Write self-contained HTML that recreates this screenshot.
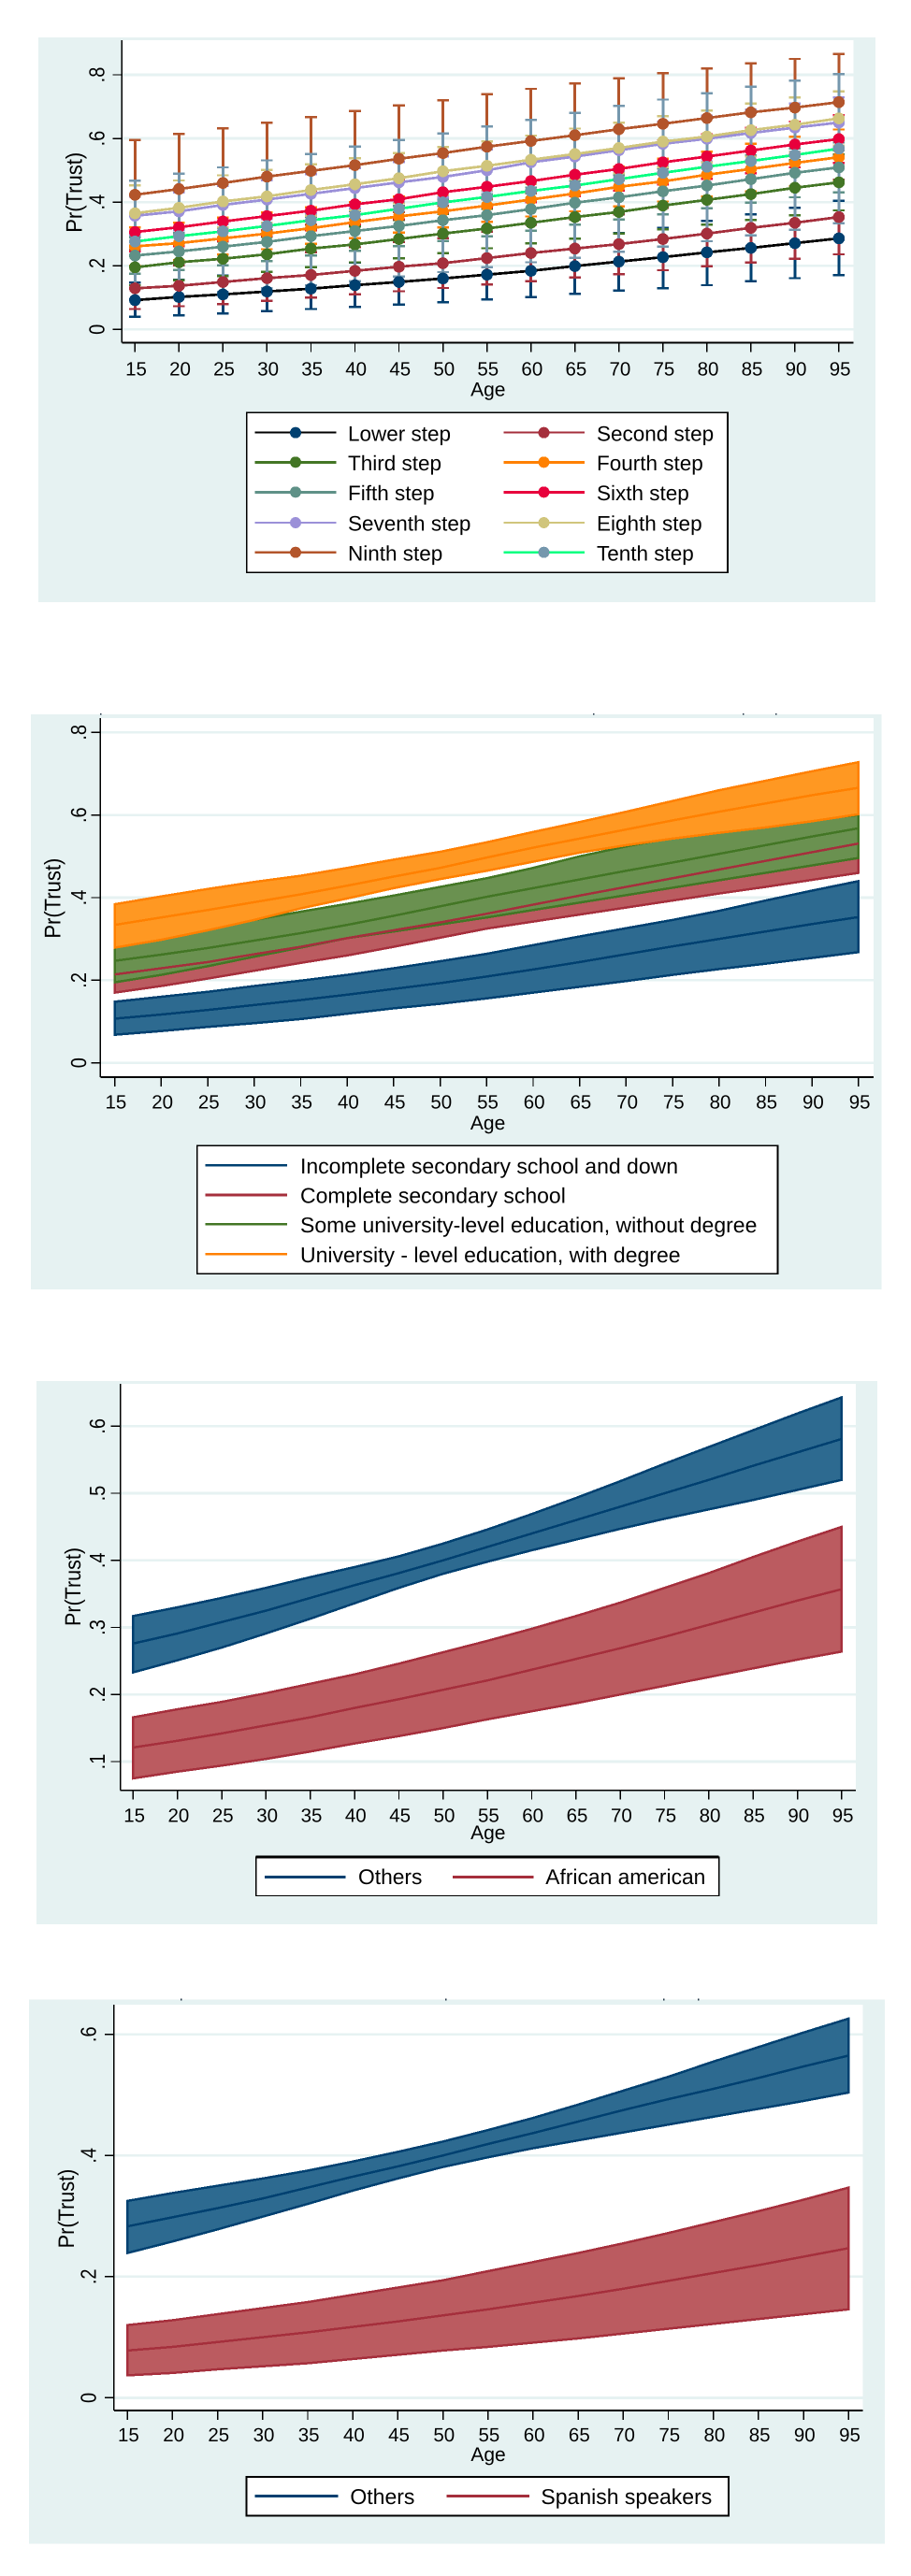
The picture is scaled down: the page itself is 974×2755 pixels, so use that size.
<!DOCTYPE html>
<html lang="en">
<head>
<meta charset="utf-8">
<title>Pr(Trust) by age</title>
<style>
html,body{margin:0;padding:0;background:#fff;}
svg{display:block;font-family:"Liberation Sans",sans-serif;}
</style>
</head>
<body>
<svg id="figure" xmlns="http://www.w3.org/2000/svg" width="974" height="2755" viewBox="0 0 974 2755" shape-rendering="crispEdges"></svg>
<script>
// ---------- shared categories ----------
const ages = [15,20,25,30,35,40,45,50,55,60,65,70,75,80,85,90,95];

// ---------- chart 1: trust steps (mid / lower / upper) ----------
const stepNames = ["Lower step","Second step","Third step","Fourth step","Fifth step","Sixth step","Seventh step","Eighth step","Ninth step","Tenth step"];
const step1Mid = [.092,.102,.110,.119,.128,.139,.149,.160,.172,.184,.199,.213,.227,.242,.256,.271,.286];
const step1Low = [.040,.044,.050,.058,.064,.071,.078,.085,.094,.102,.112,.122,.129,.139,.151,.161,.170];
const step1Up  = [.147,.156,.169,.181,.196,.210,.224,.239,.255,.270,.285,.303,.319,.341,.362,.382,.404];
const step2Mid = [.129,.137,.149,.161,.171,.184,.197,.208,.224,.240,.254,.268,.284,.301,.319,.335,.353];
const step2Low = [.064,.073,.080,.090,.100,.110,.120,.130,.141,.151,.163,.174,.186,.198,.210,.222,.236];
const step2Up  = [.194,.201,.218,.232,.242,.258,.274,.286,.307,.329,.345,.362,.382,.404,.428,.448,.470];
const step3Mid = [.195,.211,.222,.236,.254,.267,.284,.301,.317,.335,.353,.369,.389,.407,.425,.445,.462];
const step3Low = [.139,.154,.168,.181,.195,.211,.224,.239,.255,.270,.285,.301,.315,.329,.344,.358,.374];
const step3Up  = [.251,.268,.276,.291,.313,.323,.344,.363,.379,.400,.421,.437,.463,.485,.506,.532,.550];
const step4Mid = [.261,.271,.286,.301,.318,.337,.355,.371,.389,.408,.427,.448,.465,.486,.504,.523,.541];
const step4Low = [.200,.217,.235,.252,.269,.286,.304,.320,.338,.355,.371,.386,.402,.417,.433,.450,.466];
const step4Up  = [.320,.335,.351,.367,.383,.400,.417,.433,.450,.468,.490,.512,.536,.558,.583,.605,.628];
const step5Mid = [.232,.245,.260,.275,.293,.309,.325,.343,.359,.378,.398,.415,.434,.452,.472,.492,.509];
const step5Low = [.175,.187,.201,.215,.232,.247,.262,.278,.293,.310,.329,.345,.362,.380,.398,.415,.431];
const step5Up  = [.290,.303,.319,.335,.354,.371,.388,.408,.425,.446,.467,.485,.506,.524,.546,.569,.587];
const step6Mid = [.306,.321,.339,.356,.373,.393,.409,.431,.448,.466,.486,.504,.525,.543,.562,.581,.598];
const step6Low = [.246,.261,.278,.294,.311,.330,.346,.367,.383,.400,.419,.436,.456,.473,.491,.509,.523];
const step6Up  = [.366,.381,.400,.418,.435,.456,.472,.495,.513,.532,.553,.572,.594,.613,.633,.653,.673];
const step7Mid = [.357,.371,.391,.408,.426,.444,.462,.479,.500,.525,.543,.563,.583,.599,.617,.634,.650];
const step7Low = [.297,.311,.331,.347,.364,.381,.398,.414,.435,.458,.475,.494,.513,.527,.543,.558,.571];
const step7Up  = [.417,.431,.451,.469,.488,.507,.526,.544,.565,.592,.611,.632,.653,.671,.691,.710,.729];
const step8Mid = [.365,.382,.402,.418,.438,.456,.475,.497,.514,.533,.551,.570,.590,.606,.626,.643,.663];
const step8Low = [.278,.296,.320,.335,.357,.374,.396,.421,.437,.457,.471,.491,.510,.524,.543,.557,.578];
const step8Up  = [.452,.468,.484,.501,.519,.538,.554,.573,.591,.609,.631,.649,.670,.688,.710,.729,.748];
const step9Mid = [.423,.441,.460,.480,.498,.516,.536,.554,.574,.592,.610,.629,.646,.664,.682,.697,.714];
const step9Low = [.251,.268,.288,.311,.329,.346,.368,.388,.409,.428,.447,.469,.487,.508,.528,.544,.563];
const step9Up  = [.595,.614,.632,.649,.667,.686,.704,.720,.739,.756,.773,.789,.805,.820,.836,.850,.865];
const step10Mid = [.276,.293,.308,.325,.343,.359,.379,.399,.416,.435,.452,.472,.492,.511,.529,.548,.568];
const step10Low = [.095,.105,.118,.129,.139,.152,.166,.180,.195,.211,.225,.244,.260,.277,.295,.313,.333];
const step10Up  = [.467,.489,.509,.531,.551,.574,.595,.616,.638,.658,.680,.702,.722,.742,.762,.782,.802];
const step1Ticks = [0,.2,.4,.6,.8];
const step1TickLabels = ["0",".2",".4",".6",".8"];

// ---------- chart 2: education ----------
const eduNames = ["Incomplete secondary school and down","Complete secondary school","Some university-level education, without degree","University - level education, with degree"];
const edu1Mid = [.107,.117,.128,.140,.152,.165,.179,.193,.209,.226,.244,.263,.282,.300,.318,.336,.353];
const edu1Low = [.068,.077,.087,.096,.106,.119,.132,.143,.156,.170,.184,.198,.213,.227,.240,.254,.268];
const edu1Up  = [.148,.160,.172,.186,.199,.213,.229,.246,.264,.285,.306,.326,.346,.368,.393,.417,.440];
const edu2Mid = [.214,.229,.244,.263,.281,.302,.321,.340,.361,.383,.405,.426,.447,.468,.489,.510,.531];
const edu2Low = [.170,.186,.204,.223,.242,.260,.281,.303,.325,.342,.359,.376,.393,.410,.426,.443,.460];
const edu2Up  = [.258,.272,.284,.303,.320,.344,.361,.374,.397,.423,.448,.471,.494,.521,.548,.575,.598];
const edu3Mid = [.247,.262,.278,.296,.314,.334,.356,.379,.402,.423,.444,.465,.485,.506,.527,.548,.568];
const edu3Low = [.195,.213,.234,.257,.279,.302,.318,.335,.352,.370,.388,.406,.424,.442,.460,.478,.496];
const edu3Up  = [.279,.302,.325,.346,.366,.385,.405,.426,.447,.472,.500,.524,.545,.562,.577,.589,.600];
const edu4Mid = [.334,.352,.370,.389,.408,.429,.451,.472,.497,.521,.543,.565,.587,.608,.628,.648,.666];
const edu4Low = [.279,.298,.321,.346,.374,.398,.423,.445,.465,.487,.509,.527,.543,.557,.570,.585,.602];
const edu4Up  = [.384,.403,.421,.438,.453,.472,.492,.511,.534,.559,.583,.608,.634,.660,.683,.706,.728];
const eduTicks = [0,.2,.4,.6,.8];
const eduTickLabels = ["0",".2",".4",".6",".8"];

// ---------- chart 3: African american ----------
const raceNames = ["Others","African american"];
const race1Mid = [.276,.291,.308,.325,.344,.363,.381,.400,.420,.440,.460,.480,.500,.520,.541,.561,.581];
const race1Low = [.233,.251,.270,.291,.313,.336,.359,.380,.398,.415,.431,.447,.462,.476,.490,.505,.520];
const race1Up  = [.317,.330,.344,.359,.375,.390,.406,.425,.446,.469,.493,.518,.544,.569,.594,.619,.643];
const race2Mid = [.121,.131,.142,.154,.166,.180,.193,.207,.221,.237,.253,.269,.286,.304,.322,.340,.357];
const race2Low = [.075,.085,.094,.104,.115,.127,.138,.150,.163,.175,.187,.200,.213,.226,.239,.252,.264];
const race2Up  = [.166,.178,.189,.202,.216,.230,.246,.263,.280,.298,.317,.337,.359,.381,.405,.428,.450];
const raceTicks = [.1,.2,.3,.4,.5,.6];
const raceTickLabels = [".1",".2",".3",".4",".5",".6"];

// ---------- chart 4: Spanish speakers ----------
const langNames = ["Others","Spanish speakers"];
const lang1Mid = [.283,.298,.313,.329,.347,.365,.382,.400,.419,.437,.456,.475,.493,.510,.528,.547,.565];
const lang1Low = [.239,.258,.278,.299,.320,.342,.362,.381,.397,.412,.425,.438,.451,.464,.477,.490,.504];
const lang1Up  = [.325,.338,.350,.362,.375,.390,.406,.423,.442,.462,.484,.507,.530,.555,.579,.603,.626];
const lang2Mid = [.078,.084,.092,.100,.108,.117,.126,.136,.146,.157,.168,.180,.193,.206,.219,.233,.247];
const lang2Low = [.037,.041,.047,.052,.057,.064,.071,.078,.084,.091,.098,.106,.114,.122,.130,.138,.146];
const lang2Up  = [.120,.128,.138,.148,.158,.170,.182,.194,.209,.224,.239,.255,.272,.290,.308,.327,.347];
const langTicks = [0,.2,.4,.6];
const langTickLabels = ["0",".2",".4",".6"];

// ---------- styles ----------
const BG = "#e6f2f2";
const NAVY = "#004070", MAROON = "#a52f3c", GREEN = "#437625", ORANGE = "#ff8000";
const NAVY_FILL = "#2d6a90", MAROON_FILL = "#bb5b60", GREEN_FILL = "#6a9150", ORANGE_FILL = "#ff9822";
const stepLineColors = ["#000000",MAROON,GREEN,ORANGE,"#5f9187","#e8003c","#9b90d8","#d0c57c","#b3552b","#00ff80"];
const stepMarkColors = [NAVY,MAROON,GREEN,ORANGE,"#5f9187","#e8003c","#9b90d8","#d0c57c","#b3552b","#7597ad"];

const NS = "http://www.w3.org/2000/svg";
const root = document.getElementById("figure");

function make(tag, parent, attrs, name, interactable) {
  const el = document.createElementNS(NS, tag);
  for (const k in attrs) el.setAttribute(k, attrs[k]);
  
  
  parent.appendChild(el);
  return el;
}
function text(parent, str, attrs, name) {
  const el = make("text", parent, Object.assign({ "text-rendering": "geometricPrecision", fill: "#000" }, attrs), name, false);
  el.textContent = str;
  return el;
}

function frame(c) {
  const g = make("g", root, {}, c.name, false);
  make("rect", g, { x: c.px0, y: c.py0, width: c.px1 - c.px0, height: c.py1 - c.py0, fill: BG }, "chart-background", false);
  make("rect", g, { x: c.left, y: c.top, width: c.right - c.left, height: c.bottom - c.top, fill: "#fff" }, "plot-region", false);
  c.x = a => c.x15 + (a - 15) * (c.x95 - c.x15) / 80;
  c.y = v => c.y0 - (v - c.v0) * c.yPerUnit;
  // grid
  c.ticks.forEach((t, i) => {
    make("line", g, { x1: c.left, x2: c.right, y1: c.y(t), y2: c.y(t), stroke: BG, "stroke-width": 2.7 }, "gridline-" + c.tickLabels[i], false);
  });
  return g;
}
function axes(c, g) {
  make("line", g, { x1: c.left, x2: c.left, y1: c.top, y2: c.bottom, stroke: "#000", "stroke-width": 1.6 }, "y-axis-line", false);
  make("line", g, { x1: c.left, x2: c.right, y1: c.bottom, y2: c.bottom, stroke: "#000", "stroke-width": c.axisW }, "x-axis-line", false);
  c.ticks.forEach((t, i) => {
    make("line", g, { x1: c.left - 10, x2: c.left, y1: c.y(t), y2: c.y(t), stroke: "#000", "stroke-width": 1.4 }, "y-tick-" + c.tickLabels[i], false);
    text(g, c.tickLabels[i], { transform: `translate(${c.yLabX},${c.y(t)}) rotate(-90) scale(1,1.16)`, "font-size": 20, "text-anchor": "middle" }, "y-tick-label-" + c.tickLabels[i]);
  });
  ages.forEach(a => {
    make("line", g, { x1: c.x(a), x2: c.x(a), y1: c.bottom, y2: c.bottom + 10, stroke: "#000", "stroke-width": 1.4 }, "x-tick-" + a, false);
    text(g, String(a), { x: c.x(a) + 1.2, y: c.xLabY, "font-size": 20.5, "text-anchor": "middle" }, "x-tick-label-" + a);
  });
  text(g, "Age", { x: c.ageX, y: c.ageY, "font-size": 21, "text-anchor": "middle" }, "x-axis-title");
  text(g, "Pr(Trust)", { transform: `translate(${c.titleX},${c.titleY}) rotate(-90) scale(1,1.1)`, "font-size": c.titleSize, "text-anchor": "middle" }, "y-axis-title");
}
function legendBox(c, g) {
  const l = c.legend;
  const b = make("g", g, {}, "legend", false);
  make("rect", b, { x: l.x0, y: l.y0, width: l.x1 - l.x0, height: l.y1 - l.y0, fill: "#fff", stroke: "#000", "stroke-width": l.sw }, "legend-box", false);
  if (l.topW) make("line", b, { x1: l.x0, x2: l.x1, y1: l.y0, y2: l.y0, stroke: "#000", "stroke-width": l.topW }, "legend-top-border", false);
  return b;
}
function pts(c, vals) {
  return vals.map((v, i) => c.x(ages[i]) + "," + c.y(v)).join(" ");
}
function bandArea(c, g, low, up, line, fill, name) {
  const poly = up.map((v, i) => c.x(ages[i]) + "," + c.y(v));
  for (let i = low.length - 1; i >= 0; i--) poly.push(c.x(ages[i]) + "," + c.y(low[i]));
  make("polygon", g, { points: poly.join(" "), fill: fill, stroke: line, "stroke-width": 2.5, "stroke-linejoin": "miter" }, name + "-ci-band", false);
}
function midLine(c, g, mid, line, name) {
  make("polyline", g, { points: pts(c, mid), fill: "none", stroke: line, "stroke-width": 2.5 }, name + "-line", false);
}

// ---------- chart 1 ----------
const c1 = { name: "chart-trust-steps", px0: 41, px1: 936, py0: 40, py1: 644, left: 130.3, right: 912.5, top: 43, bottom: 366.7, x15: 144.3, x95: 896.9, y0: 352.3, v0: 0, yPerUnit: 340.4, ticks: step1Ticks, tickLabels: step1TickLabels, yLabX: 111.7, xLabY: 401.7, ageX: 521.8, ageY: 423.5, titleX: 87.7, titleY: 205.8, titleSize: 22, axisW: 2 };
const g1 = frame(c1);
const stepMids = [step1Mid,step2Mid,step3Mid,step4Mid,step5Mid,step6Mid,step7Mid,step8Mid,step9Mid,step10Mid];
const stepLows = [step1Low,step2Low,step3Low,step4Low,step5Low,step6Low,step7Low,step8Low,step9Low,step10Low];
const stepUps  = [step1Up,step2Up,step3Up,step4Up,step5Up,step6Up,step7Up,step8Up,step9Up,step10Up];
stepNames.forEach((n, s) => {
  const slug = n.toLowerCase().replace(" ", "-");
  const eg = make("g", g1, {}, slug + "-error-bars", false);
  ages.forEach((a, i) => {
    const X = c1.x(a), yl = c1.y(stepLows[s][i]), yu = c1.y(stepUps[s][i]);
    make("line", eg, { x1: X, x2: X, y1: yl, y2: yu, stroke: stepMarkColors[s], "stroke-width": 3 }, "error-stem-" + a, false);
    make("line", eg, { x1: X - 6.3, x2: X + 6.3, y1: yl, y2: yl, stroke: stepMarkColors[s], "stroke-width": 2.4 }, "error-cap-low-" + a, false);
    make("line", eg, { x1: X - 6.3, x2: X + 6.3, y1: yu, y2: yu, stroke: stepMarkColors[s], "stroke-width": 2.4 }, "error-cap-high-" + a, false);
  });
});
stepNames.forEach((n, s) => {
  const slug = n.toLowerCase().replace(" ", "-");
  const lg = make("g", g1, {}, slug + "-series", false);
  make("polyline", lg, { points: pts(c1, stepMids[s]), fill: "none", stroke: stepLineColors[s], "stroke-width": 2.8 }, slug + "-line", false);
  ages.forEach((a, i) => {
    make("circle", lg, { cx: c1.x(a), cy: c1.y(stepMids[s][i]), r: 6.3, fill: stepMarkColors[s] }, slug + "-point-" + a, false);
  });
});
axes(c1, g1);
c1.legend = { x0: 263.7, x1: 778, y0: 441.3, y1: 612.3, sw: 1.6 };
const lb1 = legendBox(c1, g1);
const legendRows1 = [462.7, 494.3, 526.3, 559, 590.7];
stepNames.forEach((n, s) => {
  const col = s % 2, row = Math.floor(s / 2);
  const y = legendRows1[row];
  const x0 = col ? 538.6 : 272.4, x1 = col ? 625 : 359.5, mx = col ? 581.5 : 316, tx = col ? 638 : 372;
  const e = make("g", lb1, {}, "legend-entry-" + n.toLowerCase().replace(" ", "-"), false);
  make("line", e, { x1: x0, x2: x1, y1: y, y2: y, stroke: stepLineColors[s], "stroke-width": s < 2 ? 2 : (s < 6 ? 3 : 2.4) }, "legend-key-line", false);
  make("circle", e, { cx: mx, cy: y, r: 6, fill: stepMarkColors[s] }, "legend-key-marker", false);
  text(e, n, { x: tx, y: y + 8.7, "font-size": 22.5 }, "legend-label");
});

// ---------- chart 2 ----------
const c2 = { name: "chart-education", px0: 33, px1: 942.5, py0: 764, py1: 1379, left: 107.3, right: 934, top: 768, bottom: 1152, x15: 122.7, x95: 917.9, y0: 1136.7, v0: 0, yPerUnit: 441.7, ticks: eduTicks, tickLabels: eduTickLabels, yLabX: 92, xLabY: 1185.5, ageX: 521.6, ageY: 1208, titleX: 64.5, titleY: 960.7, titleSize: 22, axisW: 2.4 };
const g2 = frame(c2);
bandArea(c2, g2, edu1Low, edu1Up, NAVY, NAVY_FILL, "band-incomplete-secondary");
bandArea(c2, g2, edu2Low, edu2Up, MAROON, MAROON_FILL, "band-complete-secondary");
bandArea(c2, g2, edu3Low, edu3Up, GREEN, GREEN_FILL, "band-some-university");
bandArea(c2, g2, edu4Low, edu4Up, ORANGE, ORANGE_FILL, "band-university-degree");
midLine(c2, g2, edu1Mid, NAVY, "band-incomplete-secondary");
midLine(c2, g2, edu2Mid, MAROON, "band-complete-secondary");
midLine(c2, g2, edu3Mid, GREEN, "band-some-university");
midLine(c2, g2, edu4Mid, ORANGE, "band-university-degree");
axes(c2, g2);
[107, 634, 794, 829].forEach(x => {
  make("rect", g2, { x: x, y: 763, width: 1.5, height: 1.5, fill: "#234" }, "clipped-title-fragment", false);
});
c2.legend = { x0: 210.8, x1: 831.5, y0: 1225.3, y1: 1362.3, sw: 1.6 };
const lb2 = legendBox(c2, g2);
const legendRows2 = [1246.3, 1278, 1309.3, 1341.3];
const eduColors = [NAVY, MAROON, GREEN, ORANGE];
eduNames.forEach((n, i) => {
  const e = make("g", lb2, {}, "legend-entry-" + (i + 1), false);
  make("line", e, { x1: 219.5, x2: 307, y1: legendRows2[i], y2: legendRows2[i], stroke: eduColors[i], "stroke-width": 2.8 }, "legend-key-line", false);
  text(e, n, { x: 321, y: legendRows2[i] + 8.7, "font-size": 23 }, "legend-label");
});

// ---------- chart 3 ----------
const c3 = { name: "chart-african-american", px0: 39.2, px1: 937.8, py0: 1477, py1: 2058, left: 128.7, right: 914.8, top: 1480, bottom: 1914.7, x15: 142.4, x95: 899.9, y0: 1884, v0: .1, yPerUnit: 717.4, ticks: raceTicks, tickLabels: raceTickLabels, yLabX: 112, xLabY: 1948.5, ageX: 521.8, ageY: 1967, titleX: 85.8, titleY: 1697, titleSize: 21.5, axisW: 1.6 };
const g3 = frame(c3);
bandArea(c3, g3, race1Low, race1Up, NAVY, NAVY_FILL, "band-others");
bandArea(c3, g3, race2Low, race2Up, MAROON, MAROON_FILL, "band-african-american");
midLine(c3, g3, race1Mid, NAVY, "band-others");
midLine(c3, g3, race2Mid, MAROON, "band-african-american");
axes(c3, g3);
c3.legend = { x0: 273.6, x1: 768.7, y0: 1986, y1: 2027.5, sw: 1.4, topW: 2.8 };
const lb3 = legendBox(c3, g3);
const e3a = make("g", lb3, {}, "legend-entry-others", false);
make("line", e3a, { x1: 283, x2: 369.4, y1: 2007.4, y2: 2007.4, stroke: NAVY, "stroke-width": 2.8 }, "legend-key-line", false);
text(e3a, raceNames[0], { x: 383, y: 2015, "font-size": 22.8 }, "legend-label");
const e3b = make("g", lb3, {}, "legend-entry-african-american", false);
make("line", e3b, { x1: 483.8, x2: 570.3, y1: 2007.4, y2: 2007.4, stroke: MAROON, "stroke-width": 2.8 }, "legend-key-line", false);
text(e3b, raceNames[1], { x: 583.3, y: 2015, "font-size": 22.8 }, "legend-label");

// ---------- chart 4 ----------
const c4 = { name: "chart-spanish-speakers", px0: 31, px1: 945.9, py0: 2138.4, py1: 2720.7, left: 121.9, right: 922.3, top: 2144, bottom: 2578, x15: 136.2, x95: 907.3, y0: 2564.4, v0: 0, yPerUnit: 647.8, ticks: langTicks, tickLabels: langTickLabels, yLabX: 102.6, xLabY: 2611, ageX: 522, ageY: 2632, titleX: 78.8, titleY: 2362, titleSize: 21.7, axisW: 1.6 };
const g4 = frame(c4);
bandArea(c4, g4, lang1Low, lang1Up, NAVY, NAVY_FILL, "band-others");
bandArea(c4, g4, lang2Low, lang2Up, MAROON, MAROON_FILL, "band-spanish-speakers");
midLine(c4, g4, lang1Mid, NAVY, "band-others");
midLine(c4, g4, lang2Mid, MAROON, "band-spanish-speakers");
axes(c4, g4);
[193, 476, 709, 746].forEach(x => {
  make("rect", g4, { x: x, y: 2137.5, width: 1.5, height: 2, fill: "#234" }, "clipped-title-fragment", false);
});
c4.legend = { x0: 263.7, x1: 779, y0: 2648.8, y1: 2690.4, sw: 2 };
const lb4 = legendBox(c4, g4);
const e4a = make("g", lb4, {}, "legend-entry-others", false);
make("line", e4a, { x1: 272.4, x2: 361.3, y1: 2669.6, y2: 2669.6, stroke: NAVY, "stroke-width": 2.8 }, "legend-key-line", false);
text(e4a, langNames[0], { x: 374.4, y: 2678, "font-size": 23 }, "legend-label");
const e4b = make("g", lb4, {}, "legend-entry-spanish-speakers", false);
make("line", e4b, { x1: 477.6, x2: 566, y1: 2669.6, y2: 2669.6, stroke: MAROON, "stroke-width": 2.8 }, "legend-key-line", false);
text(e4b, langNames[1], { x: 578.4, y: 2678, "font-size": 23 }, "legend-label");
</script>
</body>
</html>
